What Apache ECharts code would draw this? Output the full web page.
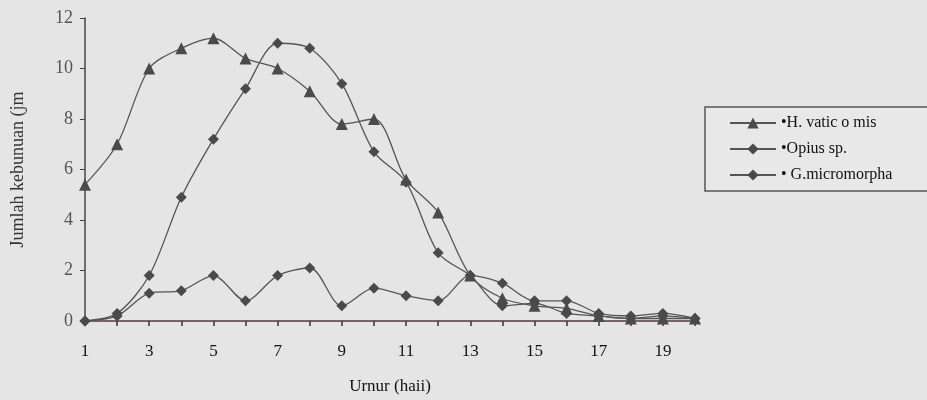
<!DOCTYPE html>
<html>
<head>
<meta charset="utf-8">
<script src="https://cdn.jsdelivr.net/npm/echarts@6/dist/echarts.min.js"></script>
<style>html,body{margin:0;padding:0;background:#e5e5e5;}#c{width:927px;height:400px;}</style>
</head>
<body>
<div id="c"></div>
<script>
const days = [1,2,3,4,5,6,7,8,9,10,11,12,13,14,15,16,17,18,19,20];
const hVaticomis = [5.4,7.0,10.0,10.8,11.2,10.4,10.0,9.1,7.8,8.0,5.6,4.3,1.8,0.9,0.6,0.5,0.2,0.1,0.1,0.1];
const opius = [0,0.3,1.8,4.9,7.2,9.2,11.0,10.8,9.4,6.7,5.5,2.7,1.8,0.6,0.7,0.3,0.2,0.1,0.2,0.1];
const gMicro = [0,0.2,1.1,1.2,1.8,0.8,1.8,2.1,0.6,1.3,1.0,0.8,1.8,1.5,0.8,0.8,0.3,0.2,0.3,0.1];
const seriesNames = ['•H. vatic o mis','•Opius sp.','• G.micromorpha'];
const yTicks = [0,2,4,6,8,10,12];

const pair = arr => days.map((d,i)=>[d,arr[i]]);
const serif = '"Liberation Serif","DejaVu Serif",serif';
const lineCol = '#555';
const markCol = '#4a4a4a';
function mk(name, data, symbol, z){
  return {name, type:'line', data:pair(data), smooth:0.3, symbol, symbolSize: symbol==='triangle'?12:11,
    z, lineStyle:{color:lineCol,width:1.3}, itemStyle:{color:markCol}, emphasis:{disabled:true}};
}
const chart = echarts.init(document.getElementById('c'), null, {renderer:'canvas'});
chart.setOption({
  backgroundColor:'#e5e5e5',
  animation:false,
  grid:{left:85,right:232,top:18,bottom:79},
  xAxis:{type:'value',min:1,max:20,interval:1,
    name:'Urnur (haii)',nameLocation:'middle',nameGap:57,
    nameTextStyle:{fontFamily:serif,fontSize:17,color:'#111'},
    axisLine:{lineStyle:{color:'#5a3a3a',width:1.5}},
    axisTick:{show:true,length:5,lineStyle:{color:'#333',width:1.5}},
    axisLabel:{fontFamily:serif,fontSize:17,color:'#111',margin:22,
      formatter:v=> (v%2===1 ? String(v) : '')},
    splitLine:{show:false}},
  yAxis:{type:'value',min:0,max:12,interval:2,
    name:'Jumlah kebunuan (jm',nameLocation:'middle',nameGap:58,
    nameTextStyle:{fontFamily:serif,fontSize:18,color:'#333'},
    axisLine:{show:true,lineStyle:{color:'#444',width:1.5}},
    axisTick:{show:true,length:5,lineStyle:{color:'#444'}},
    axisLabel:{fontFamily:serif,fontSize:18,color:'#555',margin:12,
      formatter:v=> yTicks.includes(v)? String(v):''},
    splitLine:{show:false}},
  legend:{orient:'vertical',left:705,top:107,
    data:seriesNames,
    backgroundColor:'#e8e8e8',borderColor:'#555',borderWidth:1.5,
    padding:[8,60,8,24],itemGap:10,itemWidth:46,itemHeight:14,
    textStyle:{fontFamily:serif,fontSize:16,color:'#111'}},
  series:[
    mk(seriesNames[0], hVaticomis, 'triangle', 3),
    mk(seriesNames[1], opius, 'diamond', 2),
    mk(seriesNames[2], gMicro, 'diamond', 1)
  ]
});
</script>
</body>
</html>
